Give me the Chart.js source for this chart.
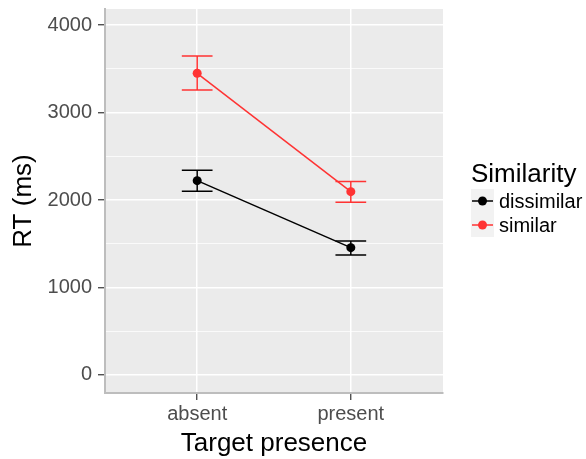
<!DOCTYPE html>
<html>
<head>
<meta charset="utf-8">
<script src="https://cdn.jsdelivr.net/npm/chart.js@4/dist/chart.umd.min.js"></script>
<style>
html,body{margin:0;padding:0;background:#fff;}
canvas{display:block;}
</style>
</head>
<body>
<canvas id="c" width="586" height="459"></canvas>
<script>
// ---- data ----
const categories = ['absent', 'present'];
const seriesNames = ['dissimilar', 'similar'];
const dissimilarMean = [2221, 1455];
const dissimilarLow  = [2099, 1371];
const dissimilarHigh = [2339, 1531];
const similarMean = [3448, 2095];
const similarLow  = [3257, 1973];
const similarHigh = [3646, 2210];
const yTickValues = [0, 500, 1000, 1500, 2000, 2500, 3000, 3500, 4000];
const legendTitle = 'Similarity';
const xTitle = 'Target presence';
const yTitle = 'RT (ms)';

const colors = ['#000000', '#FF3333'];
const FONT = '"Liberation Sans", Arial, sans-serif';

const means = [dissimilarMean, similarMean];
const lows = [dissimilarLow, similarLow];
const highs = [dissimilarHigh, similarHigh];

const datasets = seriesNames.map((name, s) => ({
  label: name,
  data: categories.map((c, i) => ({x: i + 1, y: means[s][i]})),
  borderColor: colors[s],
  backgroundColor: colors[s],
  borderWidth: 1.5,
  pointRadius: 4.5,
  pointBorderWidth: 0,
  pointHoverRadius: 4.5,
  showLine: true,
  tension: 0,
  errLow: lows[s],
  errHigh: highs[s]
}));

const panelBg = {
  id: 'panelBg',
  beforeDraw(chart) {
    const a = chart.chartArea, ctx = chart.ctx;
    ctx.save();
    ctx.fillStyle = '#EBEBEB';
    ctx.fillRect(a.left, a.top, a.right - a.left, a.bottom - a.top);
    ctx.restore();
  }
};

const errorBars = {
  id: 'errorBars',
  beforeDatasetsDraw(chart) {
    const ctx = chart.ctx, xs = chart.scales.x, ys = chart.scales.y;
    const half = 0.1;
    chart.data.datasets.forEach(ds => {
      ctx.save();
      ctx.strokeStyle = ds.borderColor;
      ctx.lineWidth = 1.5;
      ds.data.forEach((p, i) => {
        const x = xs.getPixelForValue(p.x);
        const x0 = xs.getPixelForValue(p.x - half);
        const x1 = xs.getPixelForValue(p.x + half);
        const yl = ys.getPixelForValue(ds.errLow[i]);
        const yh = ys.getPixelForValue(ds.errHigh[i]);
        ctx.beginPath();
        ctx.moveTo(x0, yh); ctx.lineTo(x1, yh);
        ctx.moveTo(x0, yl); ctx.lineTo(x1, yl);
        ctx.moveTo(x, yl); ctx.lineTo(x, yh);
        ctx.stroke();
      });
      ctx.restore();
    });
  }
};

const legendPlugin = {
  id: 'ggLegend',
  afterDraw(chart) {
    const ctx = chart.ctx;
    const lx = 471, keyW = 23, keyH = 24, top0 = 189;
    ctx.save();
    ctx.fillStyle = '#000';
    ctx.font = '26px ' + FONT;
    ctx.textBaseline = 'alphabetic';
    ctx.textAlign = 'left';
    ctx.fillText(legendTitle, lx, 182);
    chart.data.datasets.forEach((ds, i) => {
      const ty = top0 + i * keyH;
      ctx.fillStyle = '#F2F2F2';
      ctx.fillRect(lx, ty, keyW, keyH);
      const cy = ty + keyH / 2;
      ctx.strokeStyle = ds.borderColor;
      ctx.lineWidth = 1.5;
      ctx.beginPath();
      ctx.moveTo(lx + 1, cy); ctx.lineTo(lx + keyW - 1, cy);
      ctx.stroke();
      ctx.fillStyle = ds.backgroundColor;
      ctx.beginPath();
      ctx.arc(lx + keyW / 2, cy, 4.5, 0, Math.PI * 2);
      ctx.fill();
      ctx.fillStyle = '#000';
      ctx.font = '20px ' + FONT;
      ctx.textBaseline = 'middle';
      ctx.fillText(ds.label, lx + keyW + 5, cy + 1);
    });
    ctx.restore();
  }
};

new Chart(document.getElementById('c'), {
  type: 'scatter',
  data: { datasets },
  options: {
    responsive: false,
    devicePixelRatio: 1,
    animation: false,
    layout: { padding: { left: 0, top: 9, right: 143, bottom: 0 } },
    plugins: { legend: { display: false }, tooltip: { enabled: false } },
    scales: {
      x: {
        type: 'linear',
        min: 0.4, max: 2.6,
        afterBuildTicks(scale) { scale.ticks = categories.map((c, i) => ({value: i + 1})); },
        afterFit(scale) { scale.height = 66; scale.paddingLeft = 0; scale.paddingRight = 0; },
        ticks: {
          autoSkip: false, maxRotation: 0, padding: 2,
          color: '#4D4D4D',
          font: { family: FONT, size: 20 },
          callback: v => categories[Math.round(v) - 1]
        },
        grid: { color: '#FFFFFF', lineWidth: 1.5, tickColor: '#333333', tickLength: 7, tickWidth: 1.2 },
        border: { display: true, color: '#BDBDBD', width: 2 },
        title: { display: true, text: xTitle, color: '#000', font: { family: FONT, size: 26 }, padding: { top: 0, bottom: 0 } }
      },
      y: {
        type: 'linear',
        min: -206, max: 4183,
        afterBuildTicks(scale) { scale.ticks = yTickValues.map(v => ({value: v})); },
        afterFit(scale) { scale.width = 105; scale.paddingTop = 0; scale.paddingBottom = 0; },
        ticks: {
          autoSkip: false, padding: 6,
          color: '#4D4D4D',
          font: { family: FONT, size: 20 },
          callback: v => (v % 1000 === 0 ? String(v) : '')
        },
        grid: {
          color: '#FFFFFF',
          lineWidth: c => (c.tick && c.tick.value % 1000 === 0 ? 1.5 : 0.75),
          tickColor: c => (c.tick && c.tick.value % 1000 === 0 ? '#333333' : 'rgba(0,0,0,0)'),
          tickLength: 7, tickWidth: 1.2
        },
        border: { display: true, color: '#BDBDBD', width: 2 },
        title: { display: true, text: yTitle, color: '#000', font: { family: FONT, size: 26 }, padding: { top: 8, bottom: 0 } }
      }
    }
  },
  plugins: [panelBg, errorBars, legendPlugin]
});
</script>
</body>
</html>
